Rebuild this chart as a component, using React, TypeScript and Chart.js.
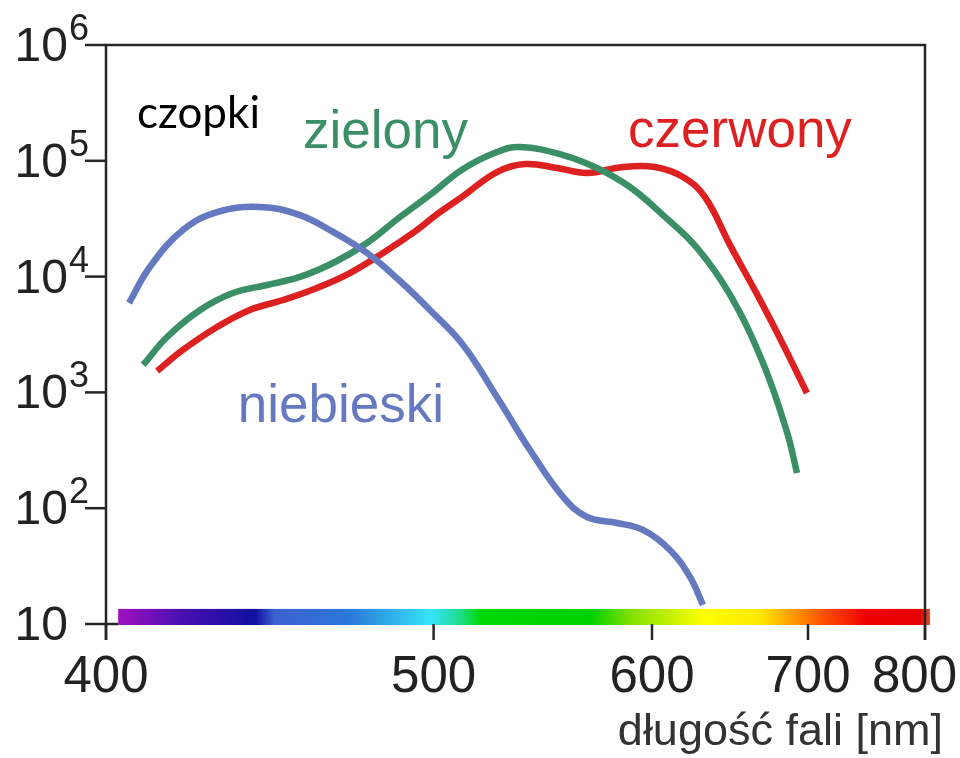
import React, { useEffect, useRef } from "react";
import { Chart, registerables } from "chart.js";

Chart.register(...registerables);

// ---- data (wavelength in nm, sensitivity on log scale) ----
const blueNm = [405.7, 411.0, 419.7, 429.1, 441.5, 453.7, 464.4, 475.8, 487.5, 498.6, 511.5, 525.4, 539.7, 554.8, 566.3, 581.4, 595.1, 610.0, 621.6, 629.4];
const blueVal = [5916, 12100, 25250, 36100, 39900, 34000, 24300, 16000, 9160, 5150, 2570, 912, 318, 125, 84, 74.5, 64.9, 43.6, 25.5, 14.6];

const greenNm = [409.3, 415.5, 424.4, 433.6, 443.6, 453.7, 465.0, 475.8, 487.5, 498.6, 511.5, 525.4, 535.3, 554.8, 571.2, 588.1, 606.1, 625.8, 646.2, 667.9, 684.6, 691.9];
const greenVal = [1725, 3010, 5150, 7220, 8460, 9930, 13370, 19500, 32700, 50700, 84900, 119000, 131600, 112200, 86700, 59400, 34000, 17700, 6940, 1795, 455, 201];

const redNm = [412.9, 419.7, 429.1, 438.5, 448.5, 459.1, 470.0, 481.4, 493.7, 500.5, 511.5, 525.4, 537.5, 552.0, 566.3, 584.5, 601.6, 617.5, 630.6, 646.2, 665.9, 681.8, 699.2];
const redVal = [1530, 2325, 3670, 5150, 6280, 7980, 10740, 16000, 25250, 33500, 49500, 80000, 93800, 86700, 78500, 88400, 88400, 72400, 48600, 18700, 6280, 2600, 988];

const xTickNm = [400, 500, 600, 700, 800];
const yTickExp = [1, 2, 3, 4, 5, 6];

const seriesNames = ["niebieski", "zielony", "czerwony"];
const seriesColors = ["#6479bf", "#3a8f66", "#dd2020"];
// label anchor (nm, value) for each series name
const labelNm = [435, 454.7, 587.1];
const labelVal = [555, 129000, 131000];

const titleText = "czopki";
const titleNm = 407.7;
const titleVal = 192000;
const xAxisTitle = "długość fali [nm]";

// visible spectrum strip
const spectrumNm = [403, 419, 440, 446, 470, 499, 510, 519, 568, 588, 630, 666, 687, 712, 747, 795, 805];
const spectrumColors = ["#a010c0", "#4a10b0", "#1010a0", "#3d62cf", "#2a78d8", "#35e4fa", "#20dc90", "#00d800", "#00d000", "#80e000", "#ffff00", "#ffe800", "#ffa000", "#ff5000", "#ee0000", "#e80000", "#e05030"];
const spectrumTopVal = 13.5;

const toX = (nm: number) => 1e7 / nm;

const FONT = '"Liberation Sans", Arial, sans-serif';

const decorPlugin = {
  id: "decor",
  afterDraw(chart: any) {
    const ctx = chart.ctx as CanvasRenderingContext2D;
    const xs = chart.scales.x;
    const ys = chart.scales.y;
    const a = chart.chartArea;
    ctx.save();

    // spectrum strip
    const sx0 = xs.getPixelForValue(toX(spectrumNm[0]));
    const sx1 = xs.getPixelForValue(toX(spectrumNm[spectrumNm.length - 1]));
    const grad = ctx.createLinearGradient(sx0, 0, sx1, 0);
    spectrumNm.forEach((nm, i) => {
      const p = (xs.getPixelForValue(toX(nm)) - sx0) / (sx1 - sx0);
      grad.addColorStop(Math.min(1, Math.max(0, p)), spectrumColors[i]);
    });
    const sTop = ys.getPixelForValue(spectrumTopVal);
    ctx.fillStyle = grad;
    ctx.fillRect(sx0, sTop, sx1 - sx0, a.bottom + 1 - sTop);

    // frame
    ctx.strokeStyle = "#262626";
    ctx.lineWidth = 2.5;
    ctx.beginPath();
    ctx.moveTo(a.left, a.bottom + 16);
    ctx.lineTo(a.left, a.top);
    ctx.lineTo(a.right, a.top);
    ctx.lineTo(a.right, a.bottom + 16);
    ctx.moveTo(a.left, a.bottom);
    ctx.lineTo(sx0, a.bottom);
    ctx.stroke();

    // y ticks + labels
    ctx.fillStyle = "#222";
    ctx.textBaseline = "alphabetic";
    yTickExp.forEach((e) => {
      const y = ys.getPixelForValue(Math.pow(10, e));
      ctx.beginPath();
      ctx.moveTo(a.left - 21, y);
      ctx.lineTo(a.left, y);
      ctx.stroke();
      ctx.font = `48px ${FONT}`;
      ctx.textAlign = "right";
      ctx.fillText("10", a.left - 38, y + 16);
      if (e !== 1) {
        ctx.font = `36px ${FONT}`;
        ctx.textAlign = "left";
        ctx.fillText(String(e), a.left - 37, y - 5);
      }
    });

    // x ticks + labels
    ctx.font = `51px ${FONT}`;
    ctx.textAlign = "center";
    const W = chart.width;
    xTickNm.forEach((nm) => {
      const x = xs.getPixelForValue(toX(nm));
      ctx.beginPath();
      ctx.moveTo(x, a.bottom);
      ctx.lineTo(x, a.bottom + 16);
      ctx.stroke();
      const txt = String(nm);
      const half = ctx.measureText(txt).width / 2;
      const cx = Math.min(x, W - half - 3);
      ctx.fillText(txt, cx, a.bottom + 68);
    });

    // x axis title
    ctx.font = `45px ${FONT}`;
    ctx.fillStyle = "#333";
    ctx.textAlign = "right";
    ctx.fillText(xAxisTitle, a.right + 18, a.bottom + 121);

    // title "czopki"
    ctx.font = `44px Lato, "Open Sans", sans-serif`;
    ctx.fillStyle = "#000";
    ctx.textAlign = "left";
    ctx.fillText(titleText, xs.getPixelForValue(toX(titleNm)), ys.getPixelForValue(titleVal));

    // series labels
    ctx.font = `53px ${FONT}`;
    seriesNames.forEach((name, i) => {
      ctx.fillStyle = seriesColors[i];
      ctx.fillText(name, xs.getPixelForValue(toX(labelNm[i])), ys.getPixelForValue(labelVal[i]));
    });

    ctx.restore();
  },
};

export default function App() {
  const ref = useRef<HTMLCanvasElement | null>(null);

  useEffect(() => {
    if (!ref.current) return;
    const mk = (nm: number[], val: number[]) => nm.map((n, i) => ({ x: toX(n), y: val[i] }));
    const chart = new Chart(ref.current, {
      type: "line",
      data: {
        datasets: [
          { label: seriesNames[0], data: mk(blueNm, blueVal), borderColor: seriesColors[0] },
          { label: seriesNames[1], data: mk(greenNm, greenVal), borderColor: seriesColors[1] },
          { label: seriesNames[2], data: mk(redNm, redVal), borderColor: seriesColors[2] },
        ].map((d) => ({
          ...d,
          borderWidth: 6.5,
          pointRadius: 0,
          tension: 0.4,
          fill: false,
          borderCapStyle: "butt" as const,
        })),
      },
      options: {
        animation: false,
        responsive: true,
        maintainAspectRatio: false,
        layout: { padding: { left: 106, right: 35, top: 45, bottom: 134 } },
        plugins: { legend: { display: false }, tooltip: { enabled: false } },
        scales: {
          x: { type: "linear", reverse: true, min: toX(800), max: toX(400), display: false },
          y: { type: "logarithmic", min: 10, max: 1e6, display: false },
        },
      },
      plugins: [decorPlugin],
    });
    return () => chart.destroy();
  }, []);

  return (
    <div style={{ position: "absolute", left: 0, top: 0, width: 960, height: 758, background: "#fff" }}>
      <canvas ref={ref} />
    </div>
  );
}
